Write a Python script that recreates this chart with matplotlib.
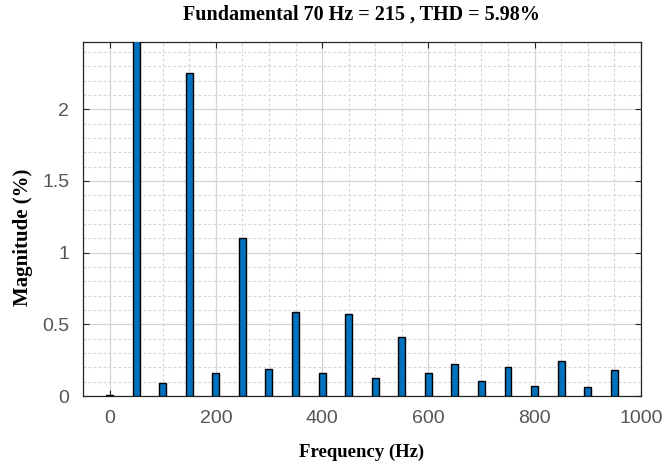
import matplotlib
matplotlib.use("Agg")
import matplotlib.pyplot as plt
from matplotlib.ticker import MultipleLocator

# Harmonic spectrum (magnitude in % of fundamental)
freqs = [0, 50, 100, 150, 200, 250, 300, 350, 400, 450,
         500, 550, 600, 650, 700, 750, 800, 850, 900, 950]
mags = [0.01, 100.0, 0.09, 2.25, 0.16, 1.10, 0.19, 0.585, 0.16, 0.573,
        0.13, 0.415, 0.16, 0.222, 0.105, 0.203, 0.073, 0.245, 0.063, 0.18]
x_ticks = [0, 200, 400, 600, 800, 1000]
y_ticks = [0, 0.5, 1, 1.5, 2]
y_tick_labels = ["0", "0.5", "1", "1.5", "2"]

fig = plt.figure(figsize=(6.62, 4.65), dpi=100)
ax = fig.add_axes([0.1254, 0.148, 0.8426, 0.762])

ax.bar(freqs, mags, width=13, color="#0072BD", edgecolor="black", linewidth=1.0, zorder=3)

ax.set_xlim(-50, 1000)
ax.set_ylim(0, 2.47)
ax.set_xticks(x_ticks)
ax.set_yticks(y_ticks)
ax.set_yticklabels(y_tick_labels)
ax.xaxis.set_minor_locator(MultipleLocator(50))
ax.yaxis.set_minor_locator(MultipleLocator(0.1))

ax.grid(which="major", color="#d4d4d4", linewidth=0.9, linestyle="-", zorder=0)
ax.grid(which="minor", color="#d4d4d4", linewidth=0.8, linestyle=(0, (2.5, 2)), zorder=0)
ax.set_axisbelow(True)

for s in ax.spines.values():
    s.set_color("#262626")
    s.set_linewidth(0.9)

ax.tick_params(which="major", direction="in", length=4, width=0.8,
               top=True, right=True, colors="#262626",
               labelcolor="#555555", labelsize=14, pad=10)
ax.tick_params(which="minor", length=0)
for lbl in ax.get_xticklabels() + ax.get_yticklabels():
    lbl.set_family("Liberation Sans")

serif = {"family": "Liberation Serif", "weight": "bold", "color": "black"}
ax.set_title("Fundamental 70 Hz = 215 , THD = 5.98%", fontsize=14.5, pad=16, fontdict=serif)
ax.set_xlabel("Frequency (Hz)", fontsize=13.5, labelpad=12, fontdict=serif)
ax.set_ylabel("Magnitude (%)", fontsize=15, fontdict=serif)
ax.yaxis.set_label_coords(-0.09, 0.449)

fig.savefig("out.png", dpi=100)
